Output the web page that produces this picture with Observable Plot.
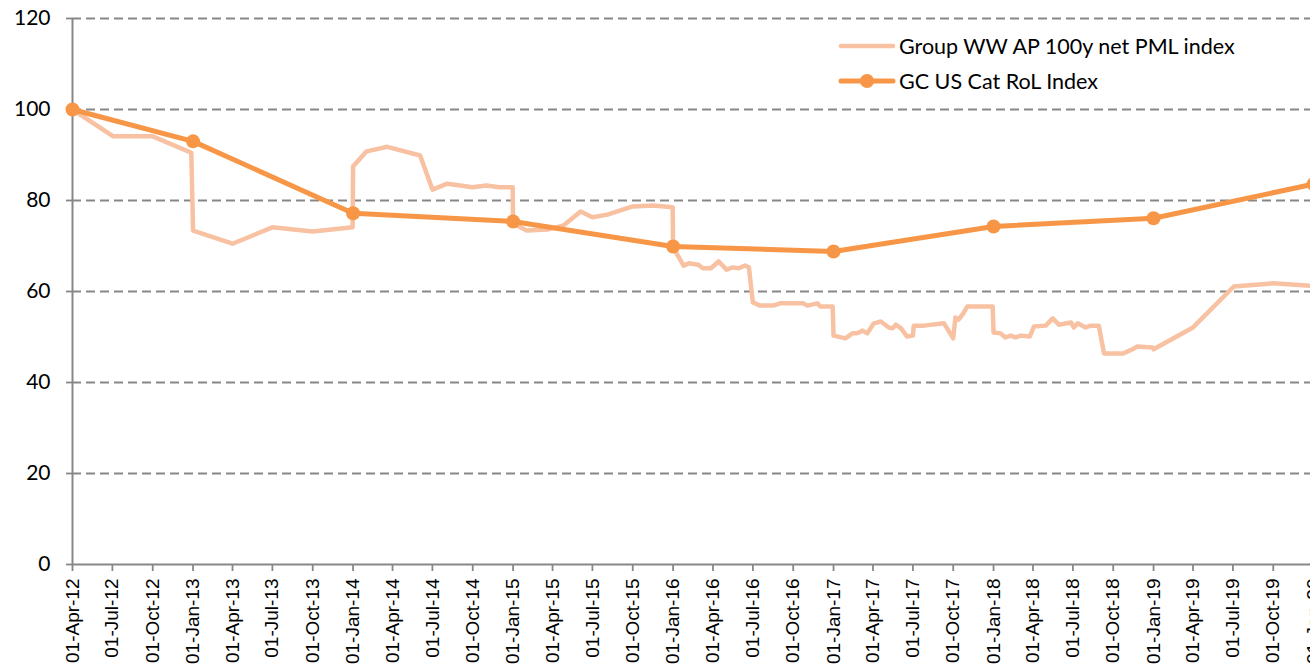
<!DOCTYPE html>
<html>
<head>
<meta charset="utf-8">
<script src="https://cdn.jsdelivr.net/npm/d3@7"></script>
<script src="https://cdn.jsdelivr.net/npm/@observablehq/plot@0.6"></script>
<style>
  html, body { margin: 0; padding: 0; background: #fff; }
  #wrap { position: relative; width: 1310px; height: 667px; overflow: hidden; }
  #legend { position: absolute; left: 838px; top: 28px; font-family: Lato, "Open Sans", sans-serif; font-size: 21.5px; color: #000; }
  #legend .row { display: flex; align-items: center; height: 35px; }
  #legend svg { margin-right: 3px; }
</style>
</head>
<body>
<div id="wrap"><div id="legend"></div></div>
<script>
// ---- data ----
const seriesNames = ["Group WW AP 100y net PML index", "GC US Cat RoL Index"];

const pmlDates = [
  "2012-04-01","2012-07-03","2012-10-01","2012-12-28","2013-01-01","2013-04-01","2013-07-01","2013-10-01","2013-12-31",
  "2014-01-01","2014-02-01","2014-03-20","2014-06-03","2014-07-01","2014-08-04","2014-09-30","2014-11-01","2014-12-01","2014-12-31",
  "2015-01-01","2015-02-01","2015-03-20","2015-04-26","2015-06-04","2015-07-01","2015-08-04","2015-10-01","2015-11-16","2015-12-31",
  "2016-01-01","2016-01-25","2016-02-06","2016-02-27","2016-03-09","2016-03-27","2016-04-14","2016-05-02","2016-05-16","2016-05-30","2016-06-13","2016-06-22",
  "2016-07-01","2016-07-17","2016-08-16","2016-09-01","2016-10-01","2016-10-24","2016-11-02","2016-11-25","2016-12-02","2016-12-30",
  "2017-01-01","2017-01-28","2017-02-13","2017-02-24","2017-03-08","2017-03-19","2017-04-03","2017-04-19","2017-05-07","2017-05-16","2017-05-23","2017-06-04","2017-06-18",
  "2017-07-01","2017-07-03","2017-07-26","2017-09-10","2017-10-01","2017-10-06","2017-10-13","2017-10-24","2017-11-02","2017-12-30",
  "2018-01-01","2018-01-17","2018-01-28","2018-02-09","2018-02-20","2018-03-04","2018-03-25","2018-04-03","2018-04-30","2018-05-16","2018-05-30","2018-06-27",
  "2018-07-03","2018-07-12","2018-07-30","2018-08-11","2018-08-29","2018-09-10","2018-10-24","2018-11-14","2018-11-25","2018-12-30",
  "2019-01-01","2019-04-01","2019-07-03","2019-10-01","2020-01-04"
];
const pmlValues = [
  100,94.1,94.1,90.5,73.4,70.5,74.1,73.2,74.1,
  87.5,90.8,91.8,89.9,82.4,83.7,82.9,83.3,82.9,82.9,
  75.0,73.4,73.6,74.5,77.6,76.3,76.9,78.7,78.9,78.5,
  69.7,65.7,66.2,65.9,65.1,65.1,66.6,64.8,65.3,65.1,65.7,65.3,
  57.6,56.9,56.9,57.4,57.4,57.4,56.9,57.4,56.7,56.7,
  50.3,49.7,50.8,50.8,51.4,50.8,53.0,53.4,52.1,51.9,52.7,51.9,50.1,
  50.3,52.5,52.5,53.0,49.7,54.3,53.8,55.2,56.7,56.7,
  51.0,50.8,49.9,50.3,49.9,50.3,50.1,52.3,52.5,54.1,52.7,53.2,
  52.1,53.0,52.1,52.5,52.5,46.4,46.4,47.3,47.9,47.7,
  47.3,52.1,61.1,61.8,61.2
];

const rolDates = ["2012-04-01","2013-01-01","2014-01-01","2015-01-01","2016-01-01","2017-01-01","2018-01-01","2019-01-01","2020-01-01"];
const rolValues = [100, 93.0, 77.2, 75.4, 69.9, 68.8, 74.3, 76.1, 83.6];

const yTicks = [0, 20, 40, 60, 80, 100, 120];
const xStart = "2012-04-01";
const xEnd = "2019-12-25";

// ---- build ----
const parse = d3.utcParse("%Y-%m-%d");
const pml = pmlDates.map((d, i) => ({date: parse(d), value: pmlValues[i]}));
const rol = rolDates.map((d, i) => ({date: parse(d), value: rolValues[i]}));
const xTicks = d3.utcMonth.every(3).range(parse(xStart), d3.utcDay.offset(parse("2020-01-01"), 1));

const lightColor = "#F8C1A2";
const darkColor = "#F79646";
const gridColor = "#878787";

const chart = Plot.plot({
  width: 1310,
  height: 667,
  marginTop: 18,
  marginBottom: 103,
  marginLeft: 72,
  marginRight: 0,
  style: {background: "#fff", overflow: "hidden"},
  x: {type: "utc", domain: [parse(xStart), parse(xEnd)]},
  y: {domain: [0, 120]},
  marks: [
    Plot.gridY(yTicks.filter(d => d > 0), {stroke: gridColor, strokeOpacity: 1, strokeWidth: 1.8, strokeDasharray: "9,5"}),
    Plot.ruleY([0], {stroke: gridColor, strokeWidth: 2}),
    Plot.ruleX([parse(xStart)], {stroke: gridColor, strokeWidth: 2}),
    Plot.axisY({ticks: yTicks, tickSize: 6, tickPadding: 16, stroke: gridColor, strokeWidth: 1.8, fontSize: 21, fontFamily: "Lato", fill: "#000", label: null}),
    Plot.axisX({ticks: xTicks, tickFormat: d3.utcFormat("%d-%b-%y"), tickRotate: -90, tickSize: 7, tickPadding: 7, stroke: gridColor, strokeWidth: 1.8, fontSize: 19, fontFamily: "Liberation Sans", fill: "#000", label: null}),
    Plot.line(pml, {x: "date", y: "value", stroke: lightColor, strokeWidth: 4.5, strokeLinejoin: "round", strokeLinecap: "round"}),
    Plot.line(rol, {x: "date", y: "value", stroke: darkColor, strokeWidth: 5, strokeLinejoin: "round"}),
    Plot.dot(rol, {x: "date", y: "value", r: 7, fill: darkColor, stroke: null})
  ]
});
const wrap = document.getElementById("wrap");
wrap.insertBefore(chart, wrap.firstChild);

// legend
const legend = document.getElementById("legend");
const styles = [{color: lightColor, dot: false}, {color: darkColor, dot: true}];
seriesNames.forEach((name, i) => {
  const row = document.createElement("div");
  row.className = "row";
  const s = styles[i];
  row.innerHTML = `<svg width="58" height="16"><line x1="3" y1="8" x2="55" y2="8" stroke="${s.color}" stroke-width="${i ? 5 : 4.5}" stroke-linecap="round"/>${s.dot ? `<circle cx="29" cy="8" r="7" fill="${s.color}"/>` : ""}</svg><span>${name}</span>`;
  legend.appendChild(row);
});
</script>
</body>
</html>
